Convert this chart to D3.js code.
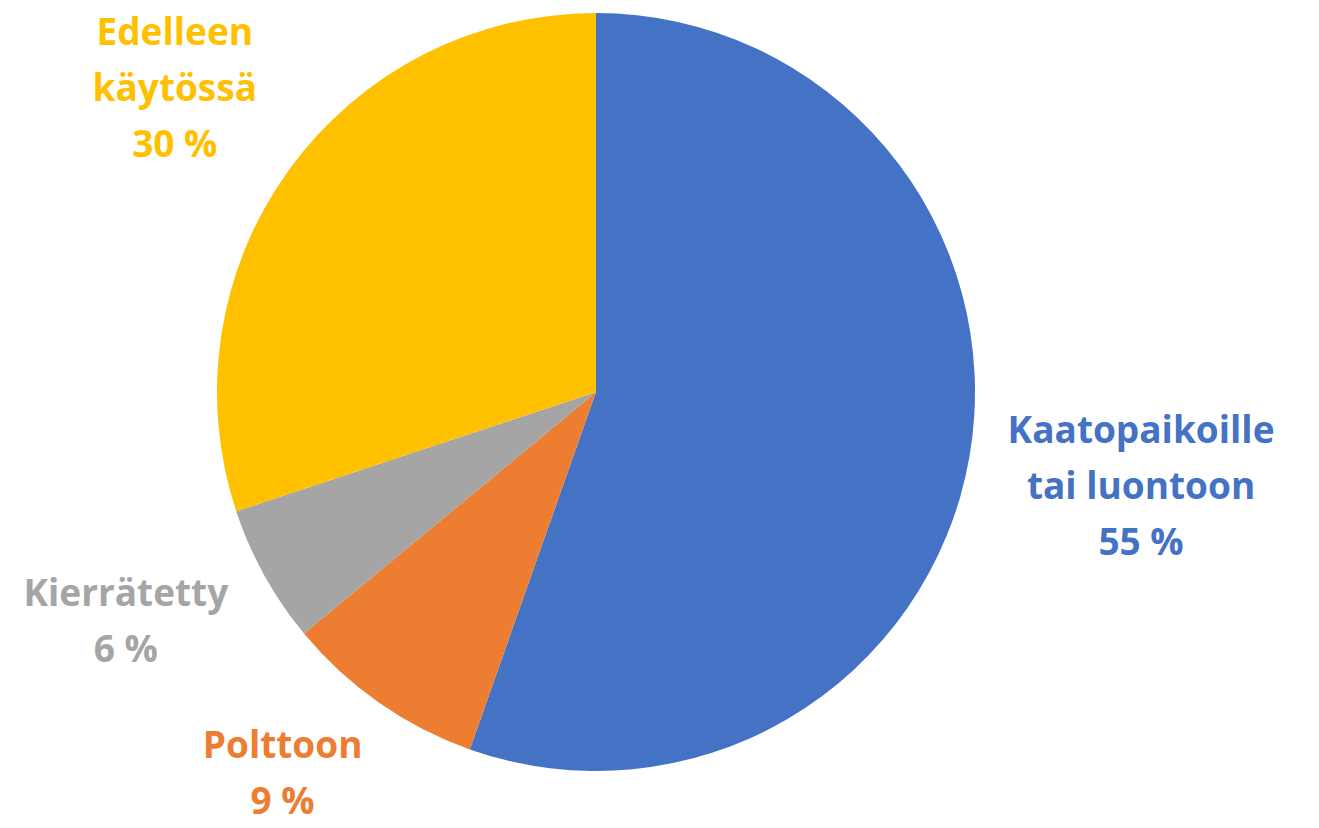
<!DOCTYPE html>
<html>
<head>
<meta charset="utf-8">
<script src="https://cdn.jsdelivr.net/npm/d3@7"></script>
<style>
  html, body { margin: 0; padding: 0; background: #fff; }
  svg { display: block; }
  .lbl { font-family: "Open Sans", Lato, sans-serif; font-weight: 700; font-size: 37px; }
</style>
</head>
<body>
<svg width="1319" height="828"></svg>
<script>
const categories = ["Kaatopaikoille\ntai luontoon", "Polttoon", "Kierrätetty", "Edelleen\nkäytössä"];
const values = [55.4, 8.6, 5.9, 30.1];
const colors = ["#4472C4", "#ED7D31", "#A5A5A5", "#FFC000"];

const width = 1319, height = 828;
const cx = 596, cy = 392, r = 379;
const gap = 33;       // space between pie edge and label ink
const labelGap = 66;  // min vertical space between neighbouring labels
const lineH = 56;

const svg = d3.select("svg");
const g = svg.append("g").attr("transform", `translate(${cx},${cy})`);

const total = d3.sum(values);
const pie = d3.pie().sort(null).value(d => d.value);
const arcs = pie(values.map((v, i) => ({ name: categories[i], value: v, color: colors[i] })));

const arc = d3.arc().innerRadius(0).outerRadius(r);

g.selectAll("path.slice")
  .data(arcs)
  .enter()
  .append("path")
  .attr("class", "slice")
  .attr("d", arc)
  .attr("fill", d => d.data.color);

// labels
const labels = g.selectAll("text.lbl")
  .data(arcs)
  .enter()
  .append("text")
  .attr("class", "lbl")
  .attr("text-anchor", "middle")
  .attr("fill", d => d.data.color);

labels.each(function (d) {
  const lines = d.data.name.split("\n").concat([Math.round(d.data.value / total * 100) + " %"]);
  const t = d3.select(this);
  lines.forEach((ln, i) => {
    t.append("tspan").attr("x", 0).attr("y", i * lineH).text(ln);
  });
});

// centre along angle a where the label box just clears the pie
function placeAt(w, h, a) {
  const ux = Math.sin(a), uy = -Math.cos(a);
  let t = r;
  for (; t < r * 3; t += 0.5) {
    const x0 = t * ux - w / 2, x1 = t * ux + w / 2;
    const y0 = t * uy - h / 2, y1 = t * uy + h / 2;
    const nx = Math.max(x0, Math.min(0, x1));
    const ny = Math.max(y0, Math.min(0, y1));
    if (Math.hypot(nx, ny) >= r + gap) break;
  }
  return [t * ux, t * uy];
}

// measure, then place along mid-angle
const info = [];
labels.each(function (d) {
  const bb = this.getBBox();
  const n = this.childNodes.length;
  const cap = 37 * 0.714;
  const inkTop = -cap, inkBot = (n - 1) * lineH;
  const a = (d.startAngle + d.endAngle) / 2;
  const o = { node: this, bb, inkTop, inkBot, w: bb.width, h: inkBot - inkTop, a,
              dir: Math.sin(a) < 0 ? 1 : -1 };
  o.c = placeAt(o.w, o.h, a);
  // keep inside the chart (full text box incl. descender space)
  const below = (bb.y + bb.height) - inkBot;
  let k = 0;
  while (cy + o.c[1] + o.h / 2 + below > height - 1 && k < 180) {
    o.a += o.dir * Math.PI / 360;
    o.c = placeAt(o.w, o.h, o.a);
    k++;
  }
  info.push(o);
});

// on each side, walk from the bottom up and keep labels apart
[-1, 1].forEach(side => {
  const list = info.filter(o => Math.sign(o.c[0]) === side).sort((p, q) => q.c[1] - p.c[1]);
  for (let i = 1; i < list.length; i++) {
    const lower = list[i - 1], o = list[i];
    let k = 0;
    while (o.c[1] + o.h / 2 > lower.c[1] - lower.h / 2 - labelGap && k < 180) {
      o.a += o.dir * Math.PI / 360;
      o.c = placeAt(o.w, o.h, o.a);
      k++;
    }
  }
});

info.forEach(o => {
  const px = o.c[0] - (o.bb.x + o.bb.width / 2);
  const py = o.c[1] - (o.inkTop + o.inkBot) / 2;
  d3.select(o.node).attr("transform", `translate(${px},${py})`);
});
</script>
</body>
</html>
